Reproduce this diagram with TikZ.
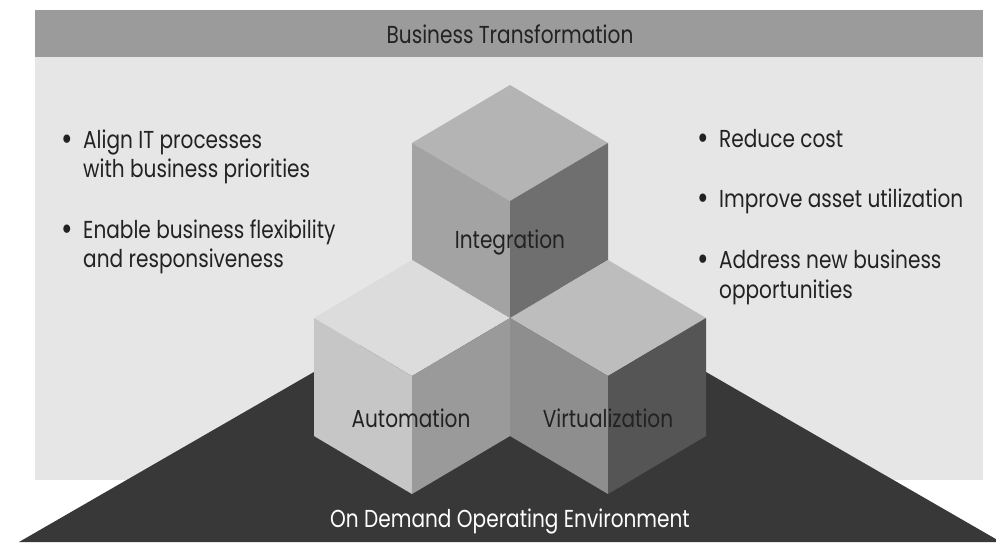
\documentclass[tikz,border=0pt]{standalone}
\usepackage{fontspec}
\setmainfont{Poppins}[FakeStretch=0.82]
\definecolor{panel}{HTML}{E6E6E6}
\definecolor{barc}{HTML}{9B9B9B}
\definecolor{darkc}{HTML}{383838}
\definecolor{itop}{HTML}{B4B4B4}
\definecolor{ileft}{HTML}{A3A3A3}
\definecolor{iright}{HTML}{6F6F6F}
\definecolor{atop}{HTML}{DCDCDC}
\definecolor{aleft}{HTML}{C6C6C6}
\definecolor{aright}{HTML}{9A9A9A}
\definecolor{vtop}{HTML}{BDBDBD}
\definecolor{vleft}{HTML}{8E8E8E}
\definecolor{vright}{HTML}{555555}
\definecolor{txt}{HTML}{222222}
\tikzset{
  label/.style={inner sep=0pt, text=txt, font=\fontsize{24.5}{29}\selectfont},
  bulletitem/.style={label, anchor=base west},
  cubelabel/.style={label, anchor=base},
}
\newcommand{\bul}{\makebox[0pt][r]{\raisebox{-2.5pt}{\fontsize{34}{29}\selectfont•}\hspace{10pt}}}
\begin{document}
\begin{tikzpicture}[x=1pt,y=-1pt]
\useasboundingbox (0,0) rectangle (996,542);
\fill[white] (0,0) rectangle (996,542);
% panel and bar
\fill[panel] (35,57) rectangle (983,480);
\fill[barc] (35,10) rectangle (983,57);
\node[cubelabel] (title) at (510,43) {Business Transformation};
% dark base
\fill[darkc] (19,542) -- (510,259) -- (1001,542) -- cycle;
% coordinates
\coordinate (It) at (510,85);  \coordinate (Il) at (412,143); \coordinate (Ir) at (608,143);
\coordinate (If) at (510,201); \coordinate (Ilb) at (412,260); \coordinate (Irb) at (608,260);
\coordinate (Ifb) at (510,318);
\coordinate (At) at (412,260); \coordinate (Al) at (314,318); \coordinate (Ar) at (510,318);
\coordinate (Af) at (412,376); \coordinate (Alb) at (314,436); \coordinate (Arb) at (510,436);
\coordinate (Afb) at (412,494);
\coordinate (Vt) at (608,260); \coordinate (Vl) at (510,318); \coordinate (Vr) at (706,318);
\coordinate (Vf) at (608,376); \coordinate (Vlb) at (510,436); \coordinate (Vrb) at (706,436);
\coordinate (Vfb) at (608,494);
% integration cube
\fill[itop] (It) -- (Ir) -- (If) -- (Il) -- cycle;
\fill[ileft] (Il) -- (If) -- (Ifb) -- (Ilb) -- cycle;
\fill[iright] (If) -- (Ir) -- (Irb) -- (Ifb) -- cycle;
% automation cube
\fill[atop] (At) -- (Ar) -- (Af) -- (Al) -- cycle;
\fill[aleft] (Al) -- (Af) -- (Afb) -- (Alb) -- cycle;
\fill[aright] (Af) -- (Ar) -- (Arb) -- (Afb) -- cycle;
% virtualization cube
\fill[vtop] (Vt) -- (Vr) -- (Vf) -- (Vl) -- cycle;
\fill[vleft] (Vl) -- (Vf) -- (Vfb) -- (Vlb) -- cycle;
\fill[vright] (Vf) -- (Vr) -- (Vrb) -- (Vfb) -- cycle;
% cube labels
\node[cubelabel] (integ) at (510,248) {Integration};
\node[cubelabel] (autom) at (411,427) {Automation};
\node[cubelabel] (virt) at (608,427) {Virtualization};
\node[cubelabel, text=white] (env) at (510,527) {On Demand Operating Environment};
% left bullets
\node[bulletitem] (l1a) at (83,148) {\bul Align IT processes};
\node[bulletitem] (l1b) at (83,177) {with business priorities};
\node[bulletitem] (l2a) at (83,238) {\bul Enable business flexibility};
\node[bulletitem] (l2b) at (83,267) {and responsiveness};
% right bullets
\node[bulletitem] (r1) at (719,147) {\bul Reduce cost};
\node[bulletitem] (r2) at (719,207) {\bul Improve asset utilization};
\node[bulletitem] (r3a) at (719,268) {\bul Address new business};
\node[bulletitem] (r3b) at (719,298) {opportunities};
\end{tikzpicture}
\end{document}
